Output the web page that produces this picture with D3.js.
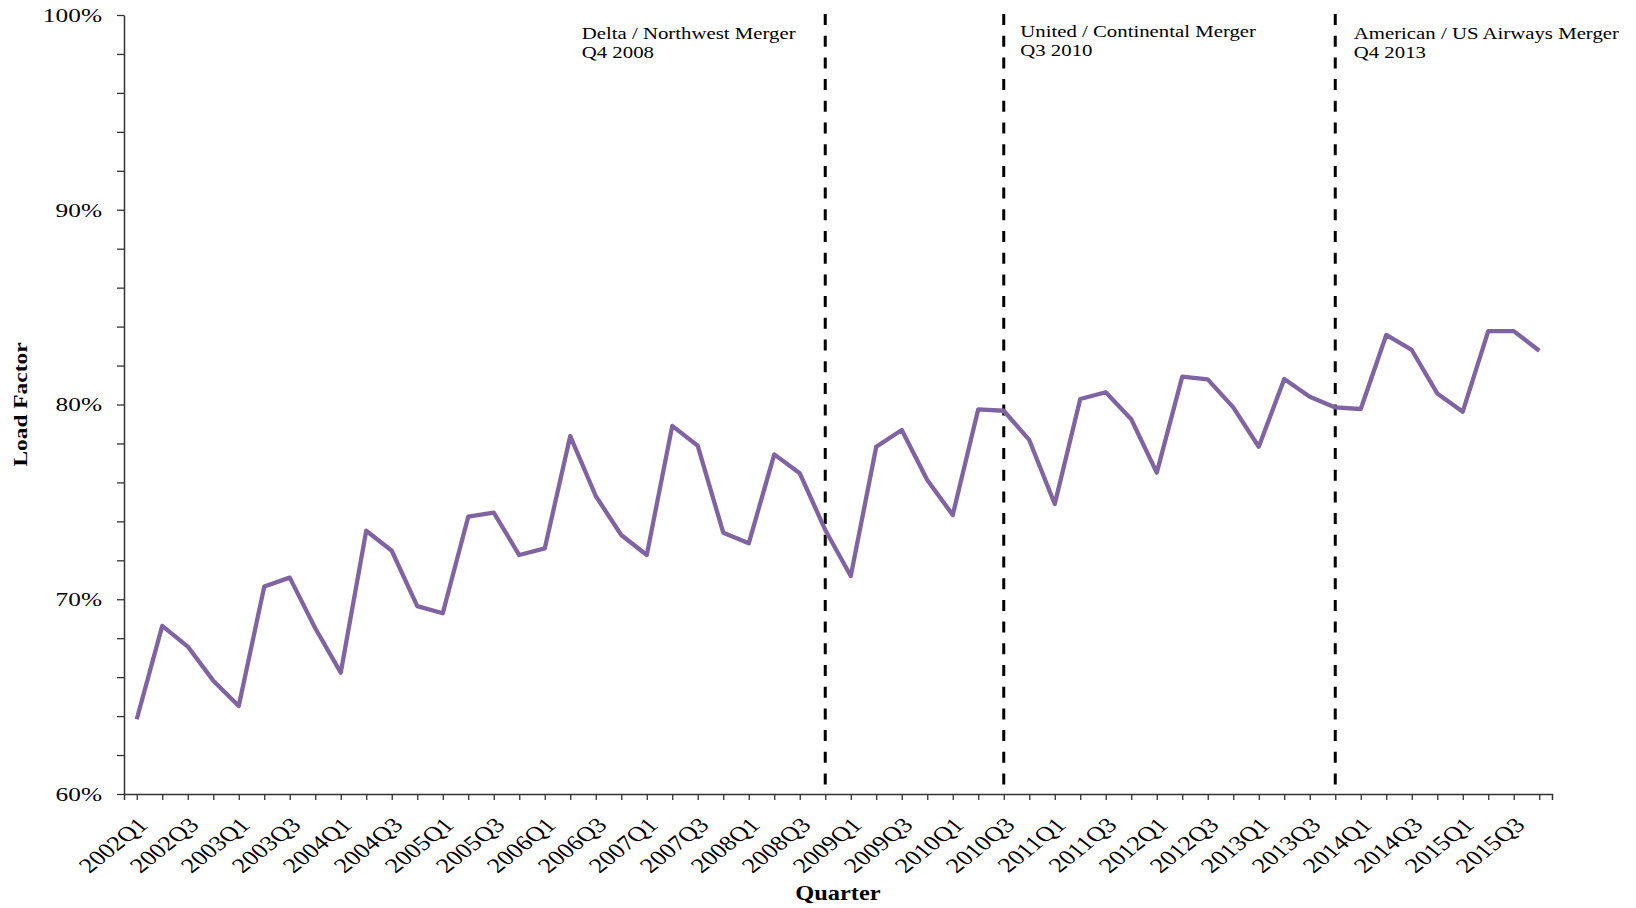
<!DOCTYPE html>
<html><head><meta charset="utf-8">
<script src="https://cdn.jsdelivr.net/npm/d3@7"></script>
<style>body{margin:0;background:#fff}svg{display:block}</style>
</head><body>
<svg id="chart" width="1636" height="908"></svg>
<script>
const quarters = [
  "2002Q1","2002Q2","2002Q3","2002Q4","2003Q1","2003Q2","2003Q3","2003Q4",
  "2004Q1","2004Q2","2004Q3","2004Q4","2005Q1","2005Q2","2005Q3","2005Q4",
  "2006Q1","2006Q2","2006Q3","2006Q4","2007Q1","2007Q2","2007Q3","2007Q4",
  "2008Q1","2008Q2","2008Q3","2008Q4","2009Q1","2009Q2","2009Q3","2009Q4",
  "2010Q1","2010Q2","2010Q3","2010Q4","2011Q1","2011Q2","2011Q3","2011Q4",
  "2012Q1","2012Q2","2012Q3","2012Q4","2013Q1","2013Q2","2013Q3","2013Q4",
  "2014Q1","2014Q2","2014Q3","2014Q4","2015Q1","2015Q2","2015Q3","2015Q4"
];
const loadFactor = [
  63.84,68.63,67.57,65.82,64.52,70.65,71.11,68.51,
  66.23,73.52,72.49,69.65,69.28,74.24,74.45,72.27,
  72.61,78.38,75.30,73.30,72.27,78.90,77.88,73.42,
  72.87,77.44,76.47,73.56,71.19,77.83,78.69,76.12,
  74.33,79.75,79.68,78.18,74.89,80.28,80.63,79.24,
  76.50,81.43,81.29,79.85,77.83,81.31,80.40,79.85,
  79.77,83.57,82.80,80.57,79.63,83.77,83.77,82.76
];
const xTickLabels = quarters.filter((q, i) => i % 2 === 0);
const yTickValues = [60, 70, 80, 90, 100];
const yMinorValues = d3.range(60, 101, 2);
const mergerQuarters = ["2008Q4", "2010Q3", "2013Q4"];
const mergerTitles = ["Delta / Northwest Merger", "United / Continental Merger", "American / US Airways  Merger"];
const mergerDates = ["Q4 2008", "Q3 2010", "Q4 2013"];

const svg = d3.select("#chart");
svg.append("rect").attr("width", 1636).attr("height", 908).attr("fill", "#fff");

const x = d3.scalePoint().domain(quarters).range([124, 1552]).padding(0.5);
const y = d3.scaleLinear().domain([60, 100]).range([794, 15]);

const serif = "'Liberation Serif','Times New Roman',serif";
const axisColor = "#333";
const textColor = "#000";

function stretch(sel, sx) {
  sel.each(function () {
    const w = this.getComputedTextLength();
    d3.select(this).attr("textLength", w * sx).attr("lengthAdjust", "spacingAndGlyphs");
  });
}

// Y axis
const yAxis = svg.append("g").attr("transform", "translate(124,0)")
  .call(d3.axisLeft(y).tickValues(yMinorValues).tickSize(7).tickSizeOuter(0).tickPadding(15)
    .tickFormat(d => yTickValues.includes(d) ? d + "%" : ""));
yAxis.select(".domain").attr("stroke", axisColor).attr("stroke-width", 1.5);
yAxis.selectAll(".tick line").attr("stroke", axisColor).attr("stroke-width", 1.3);
yAxis.selectAll(".tick text").attr("font-family", serif).attr("font-size", 19.5).attr("fill", textColor);
stretch(yAxis.selectAll(".tick text"), 1.3);

// X axis
const xAxis = svg.append("g").attr("transform", "translate(0,794)")
  .call(d3.axisBottom(x).tickSize(6).tickSizeOuter(6).tickFormat(""));
xAxis.select(".domain").attr("stroke", axisColor).attr("stroke-width", 1.5);
xAxis.selectAll(".tick line").attr("stroke", axisColor).attr("stroke-width", 1.3);

// Rotated x labels
svg.append("g").selectAll("g.xl").data(xTickLabels).join("g")
  .attr("class", "xl")
  .attr("transform", d => `translate(${x(d) + 6},821) scale(1.25,1) rotate(-45)`)
  .append("text")
  .attr("text-anchor", "end").attr("dy", "0.35em")
  .attr("font-family", serif).attr("font-size", 21).attr("fill", textColor)
  .text(d => d);

// Merger dashed lines
svg.append("g").selectAll("line").data(mergerQuarters).join("line")
  .attr("x1", d => x(d)).attr("x2", d => x(d))
  .attr("y1", y(100) - 1).attr("y2", y(60))
  .attr("stroke", "#000").attr("stroke-width", 3)
  .attr("stroke-dasharray", "11,10.7");

// Merger annotations
const annoOffsets = [[-243.5, 38.5], [16.5, 36.5], [18.5, 38.5]];
const anno = svg.append("g").selectAll("text").data(mergerQuarters).join("text")
  .attr("font-family", serif).attr("font-size", 16.5).attr("fill", textColor)
  .attr("x", (d, i) => x(d) + annoOffsets[i][0])
  .attr("y", (d, i) => annoOffsets[i][1]);
anno.append("tspan").text((d, i) => mergerTitles[i])
  .attr("x", (d, i) => x(d) + annoOffsets[i][0]);
anno.append("tspan").text((d, i) => mergerDates[i])
  .attr("x", (d, i) => x(d) + annoOffsets[i][0]).attr("dy", 19.5);
anno.selectAll("tspan").each(function () {
  const w = this.getComputedTextLength();
  d3.select(this).attr("textLength", w * 1.26).attr("lengthAdjust", "spacingAndGlyphs");
});

// Data line
svg.append("path").datum(loadFactor)
  .attr("fill", "none").attr("stroke", "#8064A2").attr("stroke-width", 4.3)
  .attr("stroke-linejoin", "round")
  .attr("d", d3.line().x((d, i) => x(quarters[i])).y(d => y(d)));

// Axis titles
const yt = svg.append("text")
  .attr("transform", `translate(27,${(y(60) + y(100)) / 2}) rotate(-90)`)
  .attr("text-anchor", "middle").attr("font-family", serif).attr("font-weight", "bold")
  .attr("font-size", 18).attr("fill", textColor).text("Load Factor");
stretch(yt, 1.3);
const xt = svg.append("text")
  .attr("x", 838).attr("y", 900)
  .attr("text-anchor", "middle").attr("font-family", serif).attr("font-weight", "bold")
  .attr("font-size", 20).attr("fill", textColor).text("Quarter");
stretch(xt, 1.22);
</script>
</body></html>
